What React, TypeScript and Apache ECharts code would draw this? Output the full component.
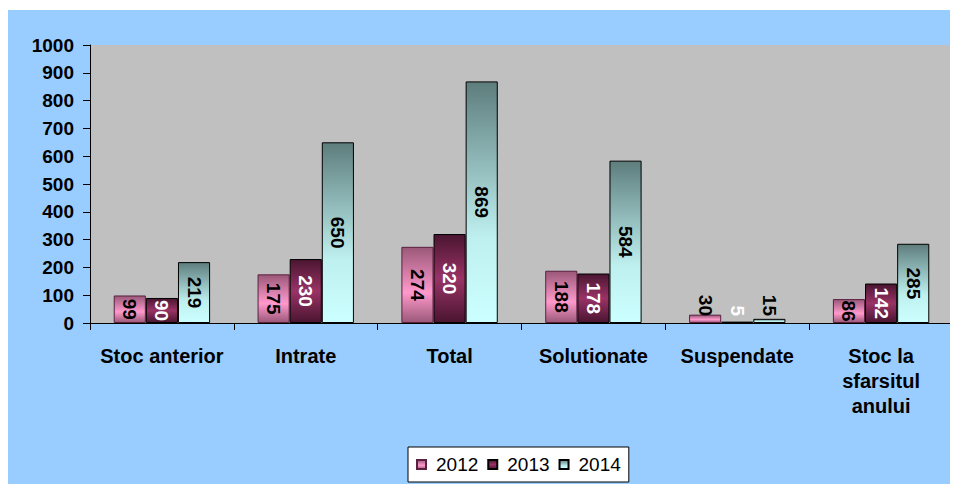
import React, { useEffect, useRef } from "react";
import * as echarts from "echarts";

const categories = ["Stoc anterior", "Intrate", "Total", "Solutionate", "Suspendate", "Stoc la\nsfarsitul\nanului"];
const seriesNames = ["2012", "2013", "2014"];
const values2012 = [99, 175, 274, 188, 30, 86];
const values2013 = [90, 230, 320, 178, 5, 142];
const values2014 = [219, 650, 869, 584, 15, 285];
const yTicks = { min: 0, max: 1000, interval: 100 };

const FONT = "'Liberation Sans', Arial, sans-serif";

export default function App() {
  const ref = useRef<HTMLDivElement>(null);
  useEffect(() => {
    if (!ref.current) return;
    const chart = echarts.init(ref.current, null, { renderer: "svg" });
    const grad = (stops: [number, string][]) =>
      new echarts.graphic.LinearGradient(0, 0, 0, 1, stops.map(([offset, color]) => ({ offset, color })));
    const fills = [
      grad([[0, "#9a5878"], [0.6, "#ff99cc"], [1, "#9a5878"]]),
      grad([[0, "#4a1530"], [0.5, "#993366"], [1, "#4a1530"]]),
      grad([[0, "#5e7d7d"], [0.65, "#bff0f0"], [1, "#ccffff"]]),
    ];
    const borders = ["#5a2040", "#000000", "#000000"];
    const labelColors = ["#000000", "#ffffff", "#000000"];
    const allValues = [values2012, values2013, values2014];

    const series = allValues.map((vals, si) => ({
      name: seriesNames[si],
      type: "bar",
      barGap: "0%",
      barCategoryGap: "33%",
      itemStyle: { color: fills[si], borderColor: borders[si], borderWidth: 1 },
      data: vals.map((v) =>
        v < 50
          ? {
              value: v,
              label: {
                position: "insideBottom",
                distance: 7,
                align: "right",
                verticalAlign: "middle",
              },
            }
          : { value: v }
      ),
      label: {
        show: true,
        position: "inside",
        rotate: -90,
        color: labelColors[si],
        fontFamily: FONT,
        fontWeight: "bold",
        fontSize: 19,
      },
    }));

    chart.setOption({
      animation: false,
      backgroundColor: "#99CCFF",
      grid: {
        left: 82,
        right: 3,
        top: 35,
        bottom: 163,
        show: true,
        backgroundColor: "#C0C0C0",
        borderWidth: 0,
      },
      legend: {
        data: seriesNames,
        left: 400,
        top: 437,
        orient: "horizontal",
        backgroundColor: "#ffffff",
        borderColor: "#000000",
        borderWidth: 1,
        padding: [8, 8],
        itemWidth: 9,
        itemHeight: 9,
        itemGap: 9,
        icon: "rect",
        textStyle: { fontFamily: FONT, fontSize: 19, color: "#000", padding: [0, 0, 0, 5] },
      },
      xAxis: {
        type: "category",
        data: categories,
        axisLine: { lineStyle: { color: "#000", width: 1 } },
        axisTick: { show: true, length: 7, lineStyle: { color: "#000" } },
        axisLabel: {
          interval: 0,
          margin: 20,
          color: "#000",
          fontFamily: FONT,
          fontWeight: "bold",
          fontSize: 20,
          lineHeight: 25,
          align: "center",
        },
        splitLine: { show: false },
      },
      yAxis: {
        type: "value",
        min: yTicks.min,
        max: yTicks.max,
        interval: yTicks.interval,
        axisLine: { show: true, lineStyle: { color: "#000", width: 1 } },
        axisTick: { show: true, length: 7, lineStyle: { color: "#000" } },
        axisLabel: {
          margin: 16,
          color: "#000",
          fontFamily: FONT,
          fontWeight: "bold",
          fontSize: 19,
          formatter: (v: number) => String(v),
        },
        splitLine: { show: false },
      },
      series,
    });
    return () => chart.dispose();
  }, []);
  return (
    <div style={{ position: "relative", top: 2 }}>
      <div ref={ref} style={{ width: 948, height: 476 }} />
    </div>
  );
}
